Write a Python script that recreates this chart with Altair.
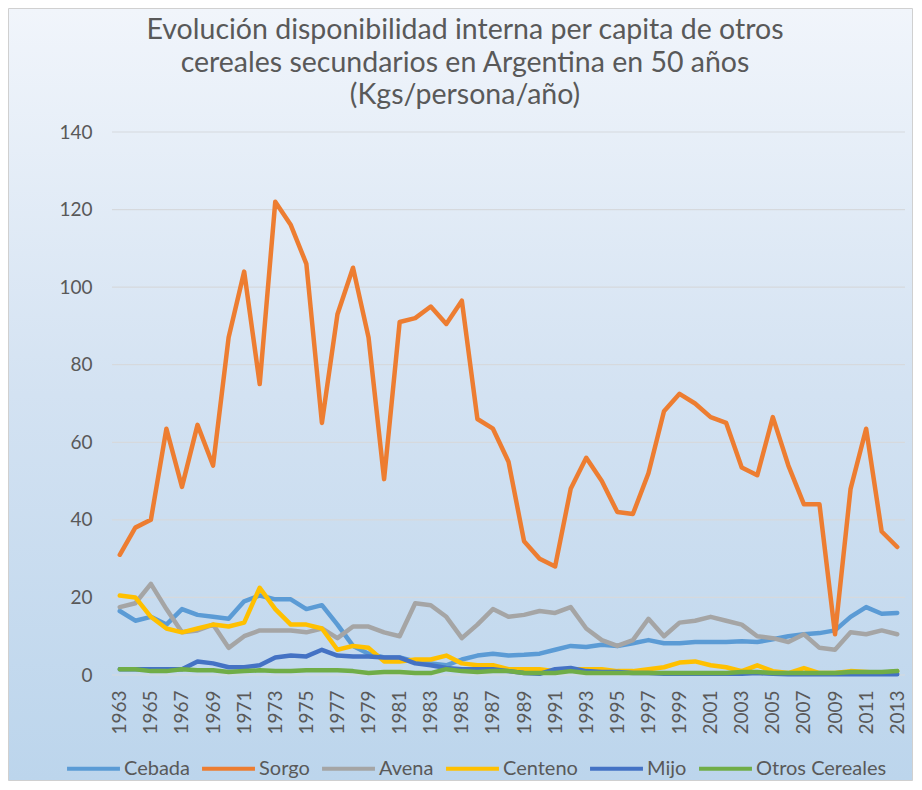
import altair as alt
import pandas as pd

years = list(range(1963, 2014))

cebada = [16.5, 14, 15, 13, 17, 15.5, 15, 14.5, 19, 20.5, 19.5, 19.5, 17, 18, 13, 7.5, 5.5, 4.5, 4.5, 3.5,
          3, 2.5, 4, 5, 5.5, 5, 5.2, 5.5, 6.5, 7.5, 7.2, 7.8, 7.5, 8.2, 9, 8.2, 8.2, 8.5, 8.5, 8.5,
          8.7, 8.5, 9.2, 10, 10.5, 10.8, 11.5, 15, 17.5, 15.8, 16]
sorgo = [31, 38, 40, 63.5, 48.5, 64.5, 54, 87, 104, 75, 122, 116, 106, 65, 93, 105, 87, 50.5, 91, 92,
         95, 90.5, 96.5, 66, 63.5, 55, 34.5, 30, 28, 48, 56, 50, 42, 41.5, 52, 68, 72.5, 70, 66.5, 65,
         53.5, 51.5, 66.5, 54, 44, 44, 10.5, 48, 63.5, 37, 33]
avena = [17.5, 18.5, 23.5, 17, 11, 11.5, 13, 7, 10, 11.5, 11.5, 11.5, 11, 12, 9.5, 12.5, 12.5, 11, 10, 18.5,
         18, 15, 9.5, 13, 17, 15, 15.5, 16.5, 16, 17.5, 12, 9, 7.5, 9, 14.5, 10, 13.5, 14, 15, 14,
         13, 10, 9.5, 8.5, 10.5, 7, 6.5, 11, 10.5, 11.5, 10.5]
centeno = [20.5, 20, 15, 12, 11, 12, 13, 12.5, 13.5, 22.5, 17, 13, 13, 12, 6.5, 7.5, 7, 3.5, 3.5, 4,
           4, 5, 3, 2.5, 2.5, 1.5, 1.5, 1.5, 1, 1.5, 1.5, 1.5, 1, 1, 1.5, 2, 3.2, 3.5, 2.5, 2,
           1, 2.5, 1, 0.5, 1.8, 0.5, 0.5, 1, 0.8, 0.5, 1]
mijo = [1.5, 1.5, 1.5, 1.5, 1.5, 3.5, 3, 2, 2, 2.5, 4.5, 5, 4.8, 6.5, 5, 4.8, 4.8, 4.5, 4.5, 3,
        2.5, 1.8, 1.5, 1.5, 1.5, 1, 0.5, 0.3, 1.5, 1.8, 1, 0.8, 0.8, 0.5, 0.5, 0.3, 0.3, 0.3, 0.3, 0.3,
        0.3, 0.5, 0.3, 0.2, 0.2, 0.2, 0.2, 0.2, 0.2, 0.2, 0.2]
otros = [1.5, 1.5, 1, 1, 1.5, 1.2, 1.2, 0.8, 1, 1.2, 1, 1, 1.2, 1.2, 1.2, 1, 0.5, 0.8, 0.8, 0.5,
         0.5, 1.5, 1, 0.8, 1, 1, 0.5, 0.5, 0.5, 1, 0.5, 0.5, 0.5, 0.5, 0.5, 0.5, 0.5, 0.5, 0.5, 0.5,
         0.8, 0.8, 0.5, 0.5, 0.5, 0.5, 0.5, 0.8, 0.8, 0.8, 1]

series_names = ["Cebada", "Sorgo", "Avena", "Centeno", "Mijo", "Otros Cereales"]
series_colors = ["#5B9BD5", "#ED7D31", "#A5A5A5", "#FFC000", "#4472C4", "#70AD47"]
series_values = [cebada, sorgo, avena, centeno, mijo, otros]

title_lines = ["Evolución disponibilidad interna per capita de otros",
               "cereales secundarios en Argentina en 50 años",
               "(Kgs/persona/año)"]
y_ticks = [0, 20, 40, 60, 80, 100, 120, 140]
x_ticks = list(range(1963, 2014, 2))

rows = []
for name, vals in zip(series_names, series_values):
    for yr, v in zip(years, vals):
        rows.append({"Año": yr, "Serie": name, "Valor": v})
df = pd.DataFrame(rows)
grid_df = pd.DataFrame({"Valor": y_ticks})

W, H = 793, 543
PL, PT, PR, PB = 104, 124, 8, 106
FONT = "Lato"
GRAY = "#595959"

x_scale = alt.Scale(domain=[1962.5, 2013.5], nice=False, zero=False)
y_scale = alt.Scale(domain=[0, 140], nice=False)

bg = alt.Chart(alt.Data(values=[{}])).mark_rect(
    fill=alt.LinearGradient(
        gradient="linear",
        stops=[alt.GradientStop(color="#f1f5fb", offset=0),
               alt.GradientStop(color="#d3e2f2", offset=0.5),
               alt.GradientStop(color="#bcd5ec", offset=1)],
        x1=0, x2=0, y1=0, y2=1),
    stroke="#d0d0d0", strokeWidth=1
).encode(
    x=alt.value(-PL + 0.5), x2=alt.value(W + PR - 0.5),
    y=alt.value(-PT + 0.5), y2=alt.value(H + PB - 0.5)
)

title = alt.Chart(alt.Data(values=[{}])).mark_text(
    text=title_lines, font=FONT, fontSize=28.5, lineHeight=32.5, color=GRAY,
    align="center", baseline="alphabetic"
).encode(x=alt.value(353), y=alt.value(-93))

grid = alt.Chart(grid_df).mark_rule(color="#d6d9dd", strokeWidth=1.2).encode(
    y=alt.Y("Valor:Q", scale=y_scale),
    x=alt.value(0), x2=alt.value(W)
)

lines = alt.Chart(df).mark_line(strokeWidth=4.5, strokeJoin="round", strokeCap="round").encode(
    x=alt.X("Año:Q", scale=x_scale,
            axis=alt.Axis(values=x_ticks, format="d", labelAngle=-90, title=None,
                          grid=False, ticks=False, domain=False,
                          labelPadding=15, labelFontSize=19, labelFont=FONT,
                          labelColor=GRAY, labelOverlap=False, zindex=1)),
    y=alt.Y("Valor:Q", scale=y_scale,
            axis=alt.Axis(values=y_ticks, title=None, grid=False,
                          ticks=False, domain=False, labelPadding=20, labelFontSize=19,
                          labelFont=FONT, labelColor=GRAY, zindex=1)),
    color=alt.Color("Serie:N",
                    scale=alt.Scale(domain=series_names, range=series_colors),
                    legend=alt.Legend(title=None, orient="none", legendX=-47, legendY=608,
                                      direction="horizontal", columns=6,
                                      symbolType="stroke", symbolSize=2800,
                                      symbolStrokeWidth=4, labelFontSize=20,
                                      labelFont=FONT, labelColor=GRAY,
                                      labelOffset=2, columnPadding=4, zindex=1)),
    order=alt.Order("Año:Q")
)

chart = alt.layer(bg, title, grid, lines).properties(
    width=W, height=H,
    autosize=alt.AutoSizeParams(type="none"),
    padding={"left": PL, "top": PT, "right": PR, "bottom": PB}
).configure_view(stroke=None)

chart.save("out.html", embed_options={"renderer": "svg", "actions": False})
